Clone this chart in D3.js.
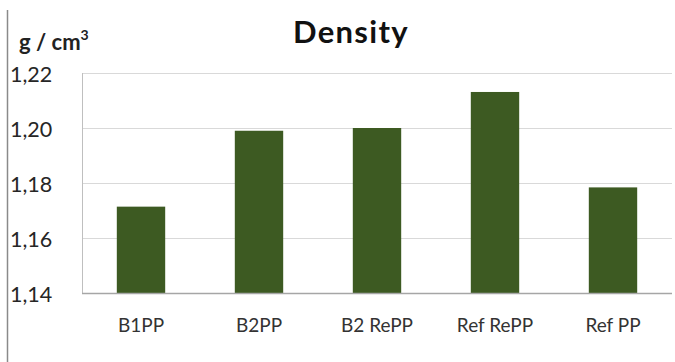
<!DOCTYPE html>
<html>
<head>
<meta charset="utf-8">
<script src="https://cdn.jsdelivr.net/npm/d3@7"></script>
<style>
  html, body { margin: 0; padding: 0; background: #fff; }
  svg { display: block; font-family: Lato, "Open Sans", sans-serif; }
</style>
</head>
<body>
<svg id="chart" width="675" height="362"></svg>
<script>
// Density of each material (g/cm³)
const categories = ["B1PP", "B2PP", "B2 RePP", "Ref RePP", "Ref PP"];
const densities = [1.1714, 1.1990, 1.2000, 1.2131, 1.1784];
const yTicks = [1.14, 1.16, 1.18, 1.20, 1.22];
const yTickLabels = ["1,14", "1,16", "1,18", "1,20", "1,22"];

const svg = d3.select("#chart");
const plot = { left: 82, right: 672, top: 73, bottom: 293 };

const x = d3.scaleBand()
  .domain(categories)
  .range([plot.left, plot.right])
  .paddingInner(0.59)
  .paddingOuter(0.295);

const y = d3.scaleLinear()
  .domain([1.14, 1.22])
  .range([plot.bottom, plot.top]);

// outer frame line on the left
svg.append("line")
  .attr("x1", 7.5).attr("x2", 7.5)
  .attr("y1", 10).attr("y2", 362)
  .attr("stroke", "#8a8a8a").attr("stroke-width", 1.5);

// horizontal gridlines
svg.append("g")
  .selectAll("line")
  .data(yTicks.slice(1))
  .join("line")
  .attr("x1", plot.left).attr("x2", plot.right)
  .attr("y1", d => Math.round(y(d)) + 0.5)
  .attr("y2", d => Math.round(y(d)) + 0.5)
  .attr("stroke", "#d9d9d9").attr("stroke-width", 1);

// left axis line of plot area
svg.append("line")
  .attr("x1", plot.left + 0.5).attr("x2", plot.left + 0.5)
  .attr("y1", plot.top).attr("y2", plot.bottom)
  .attr("stroke", "#bfbfbf").attr("stroke-width", 1);

// bars
svg.append("g")
  .selectAll("rect")
  .data(categories.map((c, i) => ({ c, v: densities[i] })))
  .join("rect")
  .attr("x", d => x(d.c))
  .attr("width", x.bandwidth())
  .attr("y", d => y(d.v))
  .attr("height", d => y(1.14) - y(d.v))
  .attr("fill", "#3d5a22");

// bottom axis line
svg.append("line")
  .attr("x1", plot.left).attr("x2", plot.right)
  .attr("y1", plot.bottom + 0.5).attr("y2", plot.bottom + 0.5)
  .attr("stroke", "#a6a6a6").attr("stroke-width", 1.5);

// y tick labels
svg.append("g")
  .selectAll("text")
  .data(yTicks)
  .join("text")
  .attr("x", 10)
  .attr("y", d => y(d) + 9)
  .attr("font-size", 21.5)
  .attr("fill", "#262626")
  .text((d, i) => yTickLabels[i]);

// category labels
svg.append("g")
  .selectAll("text")
  .data(categories)
  .join("text")
  .attr("x", d => x(d) + x.bandwidth() / 2)
  .attr("y", 332)
  .attr("text-anchor", "middle")
  .attr("font-size", 19)
  .attr("fill", "#333")
  .text(d => d);

// title
svg.append("text")
  .attr("x", 351)
  .attr("y", 43)
  .attr("text-anchor", "middle")
  .attr("font-size", 31)
  .attr("letter-spacing", 1.3)
  .attr("font-weight", "bold")
  .attr("fill", "#111")
  .text("Density");

// unit label
const unit = svg.append("text")
  .attr("x", 19)
  .attr("y", 50)
  .attr("font-size", 22)
  .attr("font-weight", "bold")
  .attr("fill", "#222");
unit.append("tspan").text("g / cm");
unit.append("tspan").attr("dy", -10).attr("font-size", 14).text("3");
</script>
</body>
</html>
